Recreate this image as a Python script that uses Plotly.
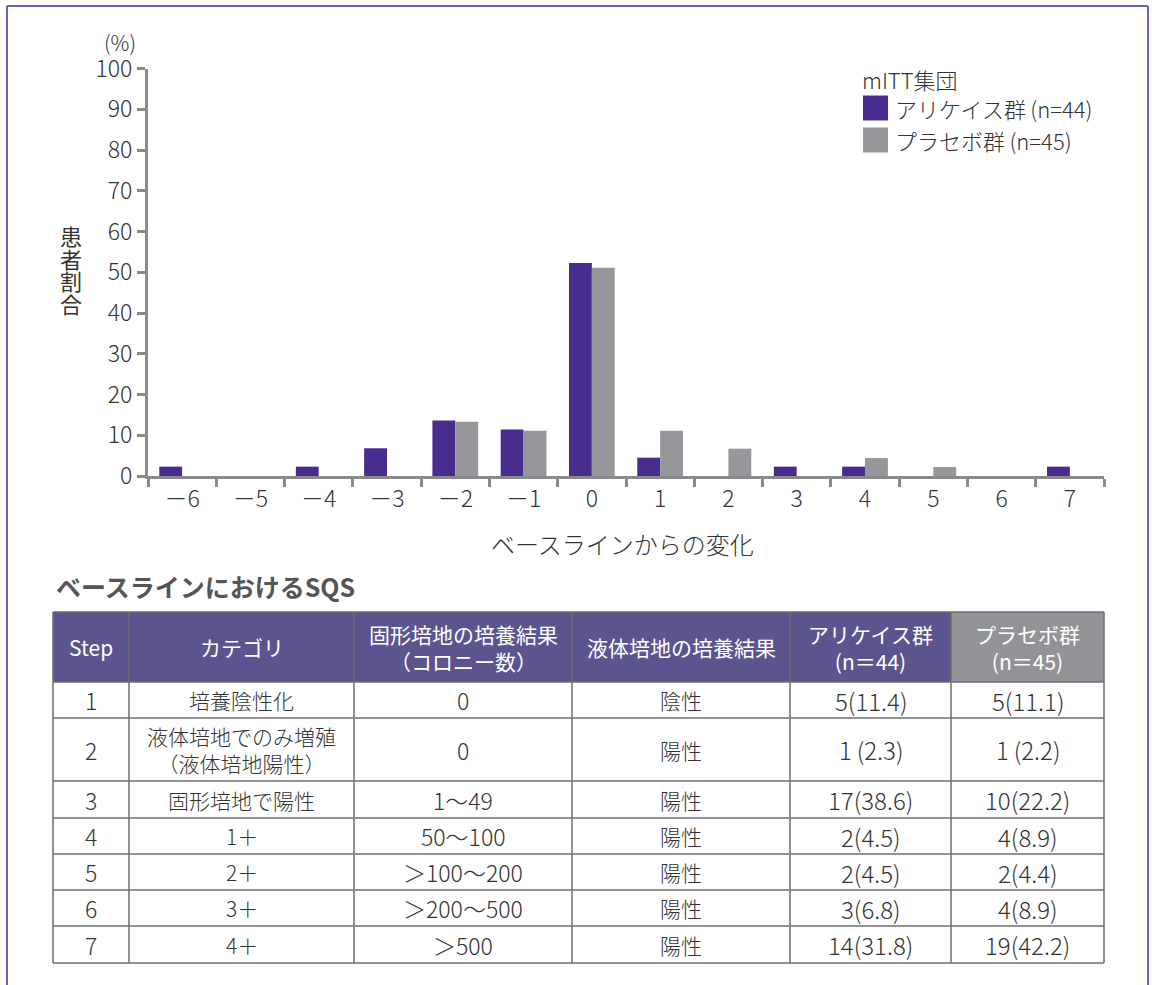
import plotly.graph_objects as go

W, H = 1152, 985
FONT = "Noto Sans CJK JP"
TXT = "#333333"

# ---------------- data ----------------
categories = ["－6", "－5", "－4", "－3", "－2", "－1", "0", "1", "2", "3", "4", "5", "6", "7"]
arikayce_pct = [2.3, 0, 2.3, 6.8, 13.6, 11.4, 52.3, 4.5, 0, 2.3, 2.3, 0, 0, 2.3]
placebo_pct = [0, 0, 0, 0, 13.3, 11.1, 51.1, 11.1, 6.7, 0, 4.4, 2.2, 0, 0]
y_tick_vals = [0, 10, 20, 30, 40, 50, 60, 70, 80, 90, 100]

series_names = ["アリケイス群\u2009(n=44)", "プラセボ群\u2009(n=45)"]
legend_title = "mITT集団"
x_title = "ベースラインからの変化"
y_title = "患者割合"
y_unit = "(%)"
table_title = "ベースラインにおけるSQS"

table_header = ["Step", "カテゴリ", "固形培地の培養結果<br>（コロニー数）", "液体培地の培養結果",
                "アリケイス群<br>(n＝44)", "プラセボ群<br>(n＝45)"]
steps = ["1", "2", "3", "4", "5", "6", "7"]
category_col = ["培養陰性化", "液体培地でのみ増殖<br>（液体培地陽性）", "固形培地で陽性", "1＋", "2＋", "3＋", "4＋"]
solid_col = ["0", "0", "1～49", "50～100", "＞100～200", "＞200～500", "＞500"]
liquid_col = ["陰性", "陽性", "陽性", "陽性", "陽性", "陽性", "陽性"]
arikayce_col = ["5(11.4)", "1\u2009(2.3)", "17(38.6)", "2(4.5)", "2(4.5)", "3(6.8)", "14(31.8)"]
placebo_col = ["5(11.1)", "1\u2009(2.2)", "10(22.2)", "4(8.9)", "2(4.4)", "4(8.9)", "19(42.2)"]

# ---------------- styles ----------------
PURPLE = "#482D8E"
GREY = "#96979B"
HDR_PURPLE = "#5C548E"
HDR_GREY = "#929396"
AXIS = "#8A8A8C"
FRAME = "#6F60B8"
GRID = "#6E6E6E"


def px(x):
    return x / W


def py(y):
    return 1 - y / H


def tfont(size, color=TXT):
    return dict(family=FONT, size=size, color=color, weight=300)


fig = go.Figure()
fig.add_trace(go.Bar(x=categories, y=arikayce_pct, name=series_names[0],
                     marker=dict(color=PURPLE, line=dict(width=0))))
fig.add_trace(go.Bar(x=categories, y=placebo_pct, name=series_names[1],
                     marker=dict(color=GREY, line=dict(width=0))))

shapes = []
annotations = []

# frame
shapes.append(dict(type="line", xref="paper", yref="paper", x0=px(7), x1=px(1148), y0=py(6), y1=py(6),
                   line=dict(color=FRAME, width=2)))
shapes.append(dict(type="line", xref="paper", yref="paper", x0=px(7), x1=px(7), y0=py(6), y1=py(985),
                   line=dict(color=FRAME, width=2)))
shapes.append(dict(type="line", xref="paper", yref="paper", x0=px(1148), x1=px(1148), y0=py(6), y1=py(985),
                   line=dict(color=FRAME, width=2)))

# legend (custom)
annotations.append(dict(text=legend_title, x=px(860), y=py(79), xref="paper", yref="paper",
                        xanchor="left", yanchor="middle", showarrow=False, font=tfont(22)))
for i, (nm, col) in enumerate(zip(series_names, [PURPLE, GREY])):
    yc = 108 + i * 32
    shapes.append(dict(type="rect", xref="paper", yref="paper", x0=px(863), x1=px(888),
                       y0=py(yc - 12.5), y1=py(yc + 12.5), fillcolor=col, line=dict(width=0)))
    annotations.append(dict(text=nm, x=px(893), y=py(yc), xref="paper", yref="paper",
                            xanchor="left", yanchor="middle", showarrow=False, font=tfont(22)))

# axis titles
annotations.append(dict(text=y_unit, x=px(120), y=py(42), xref="paper", yref="paper",
                        xanchor="center", yanchor="middle", showarrow=False, font=tfont(21)))
for i, ch in enumerate(y_title):
    annotations.append(dict(text=ch, x=px(71), y=py(235 + i * 22.5), xref="paper", yref="paper",
                            xanchor="center", yanchor="middle", showarrow=False,
                            font=dict(family=FONT, size=22, color=TXT, weight=400)))
annotations.append(dict(text=x_title, x=px(622), y=py(543), xref="paper", yref="paper",
                        xanchor="center", yanchor="middle", showarrow=False, font=tfont(24)))
annotations.append(dict(text="<b>" + table_title + "</b>", x=px(54), y=py(586), xref="paper", yref="paper",
                        xanchor="left", yanchor="middle", showarrow=False,
                        font=dict(family=FONT, size=25, color="#555555")))

# ---------------- table ----------------
col_edges = [53, 129, 354, 572, 790, 951, 1104]
row_edges = [612, 682, 718, 781, 818, 854, 890, 926, 963]
columns = [steps, category_col, solid_col, liquid_col, arikayce_col, placebo_col]
col_font_sizes = [23, 21, 23, 21, 24, 24]
hdr_fills = [HDR_PURPLE] * 5 + [HDR_GREY]

for c in range(len(table_header)):
    shapes.append(dict(type="rect", xref="paper", yref="paper",
                       x0=px(col_edges[c]), x1=px(col_edges[c + 1]),
                       y0=py(row_edges[0]), y1=py(row_edges[1]),
                       fillcolor=hdr_fills[c], line=dict(width=0), layer="below"))
    annotations.append(dict(text=table_header[c], x=px((col_edges[c] + col_edges[c + 1]) / 2),
                            y=py((row_edges[0] + row_edges[1]) / 2), xref="paper", yref="paper",
                            xanchor="center", yanchor="middle", showarrow=False,
                            font=dict(family=FONT, size=21, color="white")))
for r in range(len(steps)):
    for c, colvals in enumerate(columns):
        annotations.append(dict(text=colvals[r], x=px((col_edges[c] + col_edges[c + 1]) / 2),
                                y=py((row_edges[r + 1] + row_edges[r + 2]) / 2), xref="paper", yref="paper",
                                xanchor="center", yanchor="middle", showarrow=False,
                                font=tfont(col_font_sizes[c])))
for yv in row_edges:
    shapes.append(dict(type="line", xref="paper", yref="paper", x0=px(col_edges[0]), x1=px(col_edges[-1]),
                       y0=py(yv), y1=py(yv), line=dict(color=GRID, width=1.5)))
for xv in col_edges:
    shapes.append(dict(type="line", xref="paper", yref="paper", x0=px(xv), x1=px(xv),
                       y0=py(row_edges[0]), y1=py(row_edges[-1]), line=dict(color=GRID, width=1.5)))

fig.update_layout(
    width=W, height=H,
    margin=dict(l=0, r=0, t=0, b=0, autoexpand=False),
    paper_bgcolor="white", plot_bgcolor="white",
    barmode="group", bargap=0.33, bargroupgap=0,
    showlegend=False,
    font=dict(family=FONT, color=TXT),
    shapes=shapes, annotations=annotations,
    xaxis=dict(domain=[px(148), px(1104)], type="category", showline=True, linecolor=AXIS, linewidth=3,
               ticks="outside", tickson="boundaries", ticklen=8, tickwidth=3, tickcolor=AXIS,
               tickfont=tfont(23), showgrid=False, zeroline=False),
    yaxis=dict(domain=[py(476), py(68.5)], range=[0, 100], tickvals=y_tick_vals,
               showline=True, linecolor=AXIS, linewidth=3, ticks="outside", ticklen=8, tickwidth=3,
               tickcolor=AXIS, tickfont=tfont(23), showgrid=False, zeroline=False),
)

fig.write_html("out.html", config={"displayModeBar": False}, post_script=(
    "var gd=document.getElementById('{plot_id}');"
    "gd.style.position='fixed';gd.style.left='0px';gd.style.top='0px';"
    "document.body.style.margin='0';document.body.style.padding='0';"
    "document.body.style.overflow='hidden';document.documentElement.style.overflow='hidden';"))
